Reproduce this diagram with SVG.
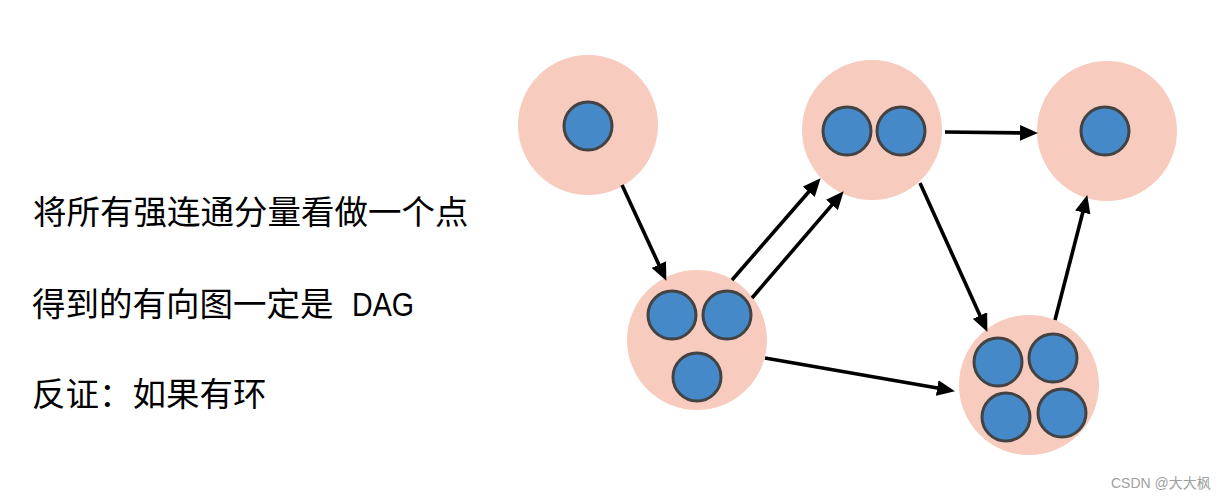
<svg xmlns="http://www.w3.org/2000/svg" width="1225" height="498" viewBox="0 0 1225 498">
<style>
.scc{fill:#F8CBBF}
.v{fill:#4689C8;stroke:#434343;stroke-width:3}
.e{stroke:#000;stroke-width:3.6;fill:none;marker-end:url(#ah)}
.t{font-family:"Noto Sans CJK SC","Liberation Sans",sans-serif;font-size:33.5px;fill:#000}
.lat{font-family:"Liberation Sans",Arial,sans-serif}
.wm{font-family:"Liberation Sans","Noto Sans CJK SC",sans-serif;font-size:14px;fill:#a0a0a0}
</style>
<defs>
<marker id="ah" markerUnits="userSpaceOnUse" markerWidth="18" markerHeight="16" viewBox="0 0 16 14" refX="8" refY="7" orient="auto">
<path d="M0,0 L16,7 L0,14 z" fill="#000"/>
</marker>
</defs>
<rect width="1225" height="498" fill="#fff"/>
<g id="text">
<text class="t" x="33" y="224">将所有强连通分量看做一个点</text>
<text class="t" x="32" y="316">得到的有向图一定是 <tspan class="lat" x="352" textLength="62" lengthAdjust="spacingAndGlyphs">DAG</tspan></text>
<text class="t" x="32" y="406">反证：如果有环</text>
</g>
<g id="nodeA">
<circle class="scc" cx="588" cy="125" r="70"/>
<circle class="v" cx="588" cy="126" r="24"/>
</g>
<g id="nodeB">
<circle class="scc" cx="697" cy="340" r="70"/>
<circle class="v" cx="672" cy="315" r="24"/>
<circle class="v" cx="727" cy="315" r="24"/>
<circle class="v" cx="697" cy="377" r="24"/>
</g>
<g id="nodeC">
<circle class="scc" cx="872" cy="130" r="70"/>
<circle class="v" cx="847" cy="131" r="24"/>
<circle class="v" cx="901" cy="131" r="24"/>
</g>
<g id="nodeD">
<circle class="scc" cx="1107" cy="131" r="70"/>
<circle class="v" cx="1105" cy="131" r="24"/>
</g>
<g id="nodeE">
<circle class="scc" cx="1029" cy="385" r="70"/>
<circle class="v" cx="998" cy="362" r="24"/>
<circle class="v" cx="1053" cy="358" r="24"/>
<circle class="v" cx="1006" cy="417" r="24"/>
<circle class="v" cx="1062" cy="413" r="24"/>
</g>
<g id="connectors">
<line class="e" x1="622" y1="185" x2="662.6" y2="272.7"/>
<line class="e" x1="732" y1="280" x2="814.7" y2="185"/>
<line class="e" x1="752" y1="298" x2="837.8" y2="198.1"/>
<line class="e" x1="765" y1="358" x2="946.1" y2="389.6"/>
<line class="e" x1="945" y1="132" x2="1029" y2="133"/>
<line class="e" x1="920" y1="183" x2="983.7" y2="323.7"/>
<line class="e" x1="1055" y1="320" x2="1085" y2="203.7"/>
</g>
<text class="wm" x="1111" y="488">CSDN @大大枫</text>
</svg>
